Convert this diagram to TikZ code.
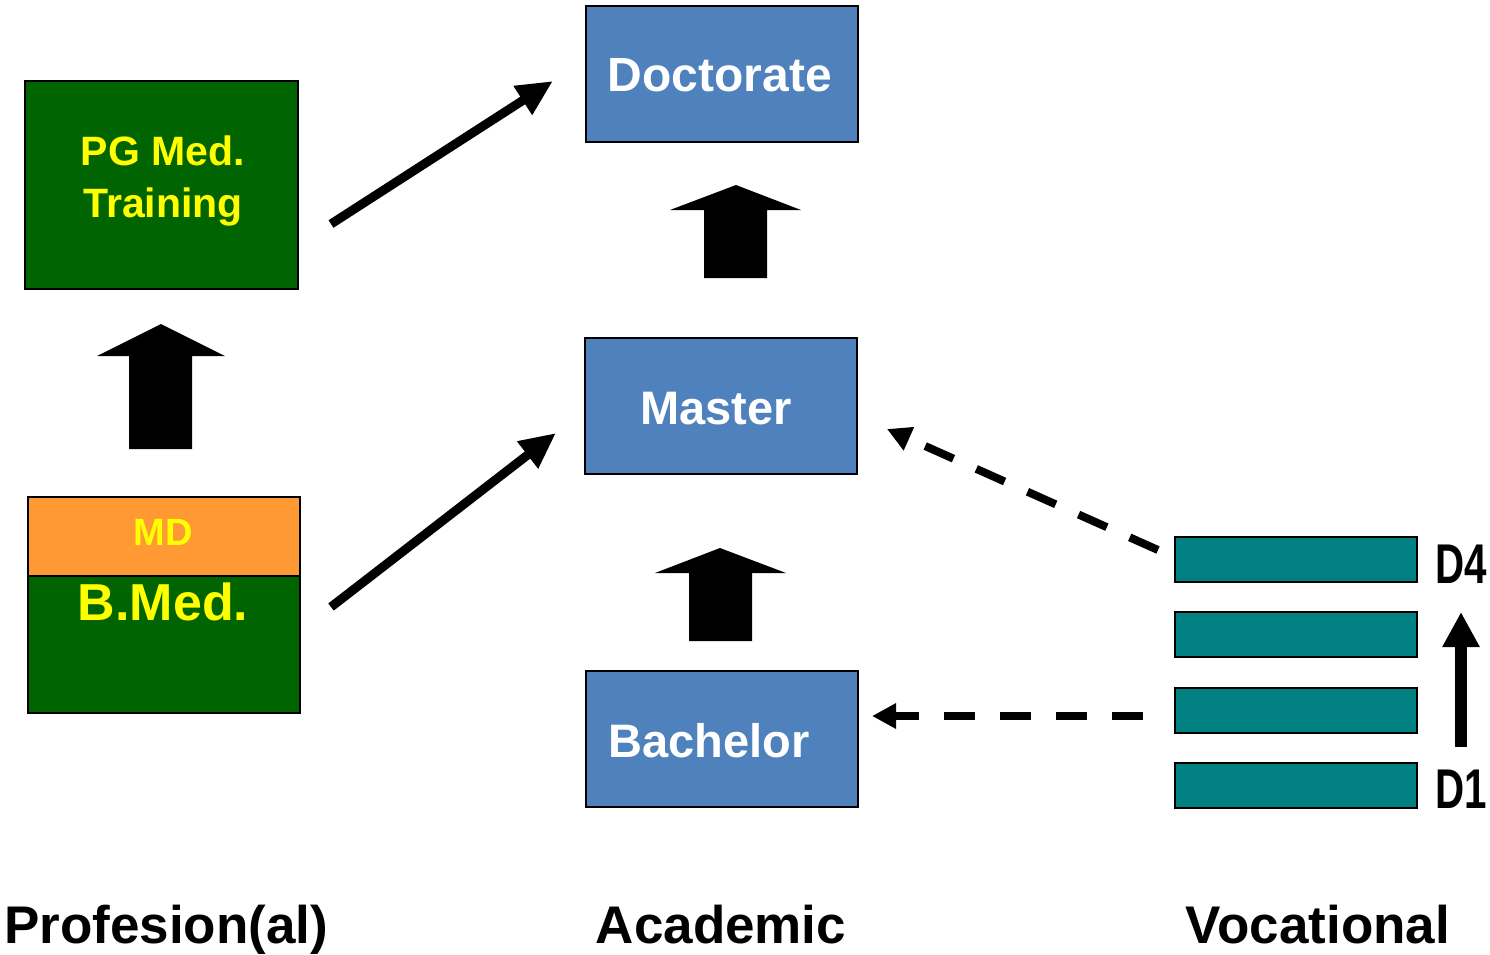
\documentclass[tikz,border=0pt]{standalone}
\usepackage{fontspec}
\usepackage{graphicx}
\setmainfont{Liberation Sans}
\usetikzlibrary{arrows.meta}
\definecolor{boxblue}{HTML}{4F81BD}
\definecolor{medgreen}{RGB}{0,100,0}
\definecolor{mdorange}{HTML}{FF9933}
\definecolor{teal}{HTML}{008080}
\definecolor{yel}{HTML}{FFFF00}
\newcommand{\fs}[1]{\fontsize{#1}{#1}\selectfont\bfseries}
\begin{document}
\begin{tikzpicture}[x=1pt,y=-1pt,
  boxa/.style={draw=black,line width=2pt,inner sep=0pt,anchor=north west},
  bluebox/.style={boxa,fill=boxblue,minimum width=272pt,minimum height=136pt},
  bar/.style={boxa,fill=teal,minimum width=242pt,minimum height=45pt},
  lab/.style={anchor=base,inner sep=0pt},
  blockarrow/.style={fill=black},
  thickarrow/.style={line width=9pt,-{Triangle[length=36pt,width=32pt]}},
  dasharrow/.style={line width=8pt,dash pattern=on 31pt off 25pt,-{Triangle[length=24pt,width=24pt]}},
  vertarrow/.style={line width=12pt,-{Triangle[length=35pt,width=35pt]}}]
\useasboundingbox (0,0) rectangle (1490,954);
% academic boxes
\node[bluebox] (doc) at (585,5) {};
\node[bluebox] (mas) at (584,337) {};
\node[bluebox] (bac) at (585,670) {};
\node[lab,text=white] (doct) at (720,91) {\fs{48}Doctorate};
\node[lab,text=white] (mast) at (716,424) {\fs{47}Master};
\node[lab,text=white] (bact) at (709,757) {\fs{47}Bachelor};
% professional boxes
\node[boxa,fill=medgreen,minimum width=273pt,minimum height=208pt] (pg) at (24,80) {};
\node[lab,text=yel] (pgt1) at (163,165) {\fs{41}PG Med.};
\node[lab,text=yel] (pgt2) at (163,217) {\fs{41}Training};
\node[boxa,fill=medgreen,minimum width=272pt,minimum height=137pt] (bmed) at (27,575) {};
\node[boxa,fill=mdorange,minimum width=272pt,minimum height=79pt] (md) at (27,496) {};
\node[lab,text=yel] (mdt) at (163,545) {\fs{38}MD};
\node[lab,text=yel] (bmedt) at (163,620) {\fs{52}B.Med.};
% vocational bars
\node[bar] (d4) at (1174,536) {};
\node[bar] (d3) at (1174,611) {};
\node[bar] (d2) at (1174,687) {};
\node[bar] (d1) at (1174,762) {};
\node[anchor=base west,inner sep=0pt] (d4t) at (1435,583) {\scalebox{0.72}[1]{\fs{56}D4}};
\node[anchor=base west,inner sep=0pt] (d1t) at (1435,808) {\scalebox{0.72}[1]{\fs{56}D1}};
% bottom labels
\node[anchor=base west,inner sep=0pt] (prof) at (4,943) {\fs{53}Profesion(al)};
\node[lab] (acad) at (721,943) {\fs{53}Academic};
\node[lab] (voc) at (1318,943) {\fs{53}Vocational};
% block arrows
\fill[blockarrow] (129,449) -- (129,356) -- (97,356) -- (161,324) -- (225,356) -- (192,356) -- (192,449) -- cycle;
\fill[blockarrow] (704,278) -- (704,210) -- (670,210) -- (736,185) -- (801,210) -- (767,210) -- (767,278) -- cycle;
\fill[blockarrow] (689,641) -- (689,573) -- (655,573) -- (720,548) -- (786,573) -- (752,573) -- (752,641) -- cycle;
% connectors
\coordinate (a1s) at (331,224);
\coordinate (a1e) at (553,81);
\coordinate (a2s) at (331,607);
\coordinate (a2e) at (556,433);
\draw[thickarrow] (a1s) -- (a1e);
\draw[thickarrow] (a2s) -- (a2e);
\coordinate (ds1) at (1158,550);
\coordinate (de1) at (887,429);
\coordinate (ds2) at (1143,716);
\coordinate (de2) at (872,716);
\draw[dasharrow] (ds1) -- (de1);
\draw[dasharrow] (ds2) -- (de2);
\coordinate (vs) at (1461,747);
\coordinate (ve) at (1461,612);
\draw[vertarrow] (vs) -- (ve);
\end{tikzpicture}
\end{document}
